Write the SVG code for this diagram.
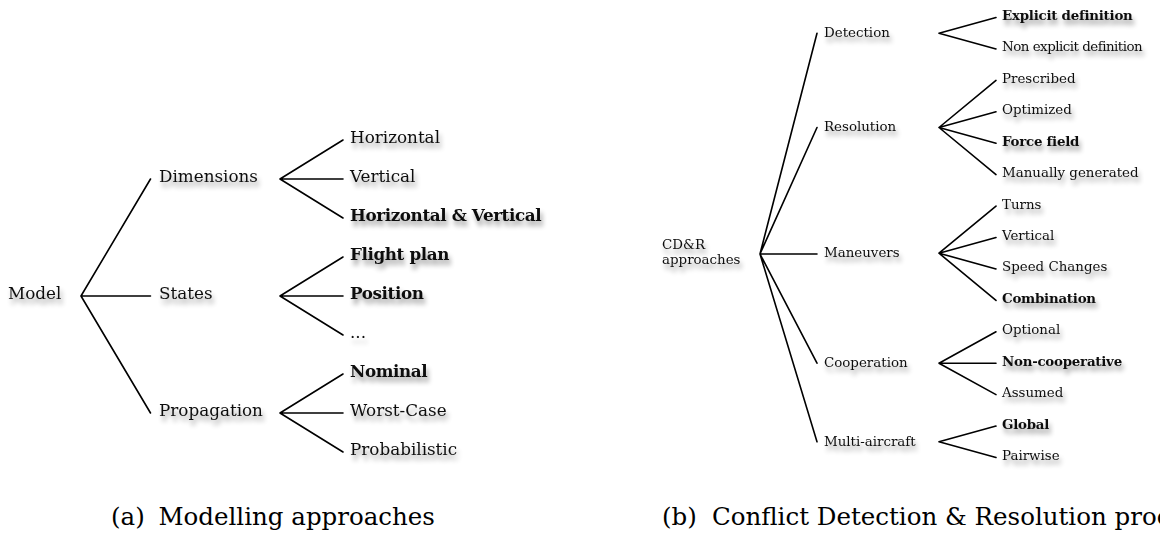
<svg xmlns="http://www.w3.org/2000/svg" width="1160" height="534" viewBox="0 0 1160 534">
  <defs>
    <filter id="soft-shadow" x="-10%" y="-50%" width="130%" height="220%">
      <feGaussianBlur in="SourceAlpha" stdDeviation="2.8" result="blur"/>
      <feOffset in="blur" dx="1.5" dy="5" result="shifted"/>
      <feComponentTransfer in="shifted" result="faded">
        <feFuncA type="linear" slope="0.4"/>
      </feComponentTransfer>
      <feMerge>
        <feMergeNode in="faded"/>
        <feMergeNode in="SourceGraphic"/>
      </feMerge>
    </filter>
  </defs>
  <style>
    .edge { stroke: #000; stroke-width: 1.6; fill: none; stroke-linecap: round; }
    .lbl { font-family: "DejaVu Serif", "Liberation Serif", serif; fill: #111; filter: url(#soft-shadow); }
    .big { font-size: 16.8px; }
    .small { font-size: 13.4px; }
    .big.b { font-weight: bold; letter-spacing: -0.4px; }
    .small.b { font-weight: bold; letter-spacing: -0.25px; }
    .cap { font-family: "DejaVu Serif", "Liberation Serif", serif; font-size: 24.5px; fill: #000; }
  </style>
  <rect width="1160" height="534" fill="#fff"/>

  <!-- (a) modelling tree: connectors -->
  <g id="edges-a" class="edge">
    <path d="M81 296 L150.5 179 M81 296 L150.5 296 M81 296 L150.5 413"/>
    <path d="M280 179 L343 140 M280 179 L343 179 M280 179 L343 218"/>
    <path d="M280 296 L343 257 M280 296 L343 296 M280 296 L343 335"/>
    <path d="M280 413 L343 374 M280 413 L343 413 M280 413 L343 452"/>
  </g>

  <!-- (a) modelling tree: nodes -->
  <g id="a-model"><text class="lbl big" x="8" y="299">Model</text></g>
  <g id="a-dimensions"><text class="lbl big" x="159" y="182">Dimensions</text></g>
  <g id="a-states"><text class="lbl big" x="159" y="299">States</text></g>
  <g id="a-propagation"><text class="lbl big" x="159" y="416">Propagation</text></g>
  <g id="a-horizontal"><text class="lbl big" x="350" y="143.3">Horizontal</text></g>
  <g id="a-vertical"><text class="lbl big" x="350" y="182.3">Vertical</text></g>
  <g id="a-horizontal-vertical"><text class="lbl big b" x="350" y="221.3">Horizontal &amp; Vertical</text></g>
  <g id="a-flight-plan"><text class="lbl big b" x="350" y="260.3">Flight plan</text></g>
  <g id="a-position"><text class="lbl big b" x="350" y="299.3">Position</text></g>
  <g id="a-ellipsis"><text class="lbl big" x="350" y="338.3">...</text></g>
  <g id="a-nominal"><text class="lbl big b" x="350" y="377.3">Nominal</text></g>
  <g id="a-worst-case"><text class="lbl big" x="350" y="416.3">Worst-Case</text></g>
  <g id="a-probabilistic"><text class="lbl big" x="350" y="455.3">Probabilistic</text></g>

  <!-- (b) CD&R tree: connectors -->
  <g id="edges-b" class="edge">
    <path d="M760 254 L817 33.2 M760 254 L817 127.5 M760 254 L817 254 M760 254 L817 363.2 M760 254 L817 441.8"/>
    <path d="M939 33.2 L996 17.5 M939 33.2 L996 48.9"/>
    <path d="M939 127.5 L996 80.4 M939 127.5 L996 111.8 M939 127.5 L996 143.2 M939 127.5 L996 174.6"/>
    <path d="M939 253.2 L996 206.1 M939 253.2 L996 237.5 M939 253.2 L996 268.9 M939 253.2 L996 300.4"/>
    <path d="M939 363.2 L996 331.8 M939 363.2 L996 363.2 M939 363.2 L996 394.6"/>
    <path d="M939 441.8 L996 426.1 M939 441.8 L996 457.5"/>
  </g>

  <!-- (b) CD&R tree: nodes -->
  <g id="b-root"><text class="lbl small" x="662" y="249">CD&amp;R</text><text class="lbl small" x="662" y="264">approaches</text></g>
  <g id="b-detection"><text class="lbl small" x="824" y="36.5">Detection</text></g>
  <g id="b-resolution"><text class="lbl small" x="824" y="130.5">Resolution</text></g>
  <g id="b-maneuvers"><text class="lbl small" x="824" y="257">Maneuvers</text></g>
  <g id="b-cooperation"><text class="lbl small" x="824" y="367">Cooperation</text></g>
  <g id="b-multi-aircraft"><text class="lbl small" x="824" y="446">Multi-aircraft</text></g>

  <g id="b-explicit"><text class="lbl small b" x="1002" y="20">Explicit definition</text></g>
  <g id="b-non-explicit"><text class="lbl small" x="1002" y="51.4" letter-spacing="-0.5">Non explicit definition</text></g>
  <g id="b-prescribed"><text class="lbl small" x="1002" y="82.9">Prescribed</text></g>
  <g id="b-optimized"><text class="lbl small" x="1002" y="114.3">Optimized</text></g>
  <g id="b-force-field"><text class="lbl small b" x="1002" y="145.7">Force field</text></g>
  <g id="b-manually"><text class="lbl small" x="1002" y="177.1">Manually generated</text></g>
  <g id="b-turns"><text class="lbl small" x="1002" y="208.6">Turns</text></g>
  <g id="b-vertical"><text class="lbl small" x="1002" y="240">Vertical</text></g>
  <g id="b-speed"><text class="lbl small" x="1002" y="271.4">Speed Changes</text></g>
  <g id="b-combination"><text class="lbl small b" x="1002" y="302.9">Combination</text></g>
  <g id="b-optional"><text class="lbl small" x="1002" y="334.3">Optional</text></g>
  <g id="b-non-cooperative"><text class="lbl small b" x="1002" y="365.7">Non-cooperative</text></g>
  <g id="b-assumed"><text class="lbl small" x="1002" y="397.1">Assumed</text></g>
  <g id="b-global"><text class="lbl small b" x="1002" y="428.6">Global</text></g>
  <g id="b-pairwise"><text class="lbl small" x="1002" y="460">Pairwise</text></g>

  <!-- sub-figure captions -->
  <g id="caption-a"><text class="cap" y="525"><tspan x="111">(a)</tspan><tspan x="158.5">Modelling approaches</tspan></text></g>
  <g id="caption-b"><text class="cap" y="525"><tspan x="662">(b)</tspan><tspan x="712">Conflict Detection &amp; Resolution proc</tspan></text></g>
</svg>
